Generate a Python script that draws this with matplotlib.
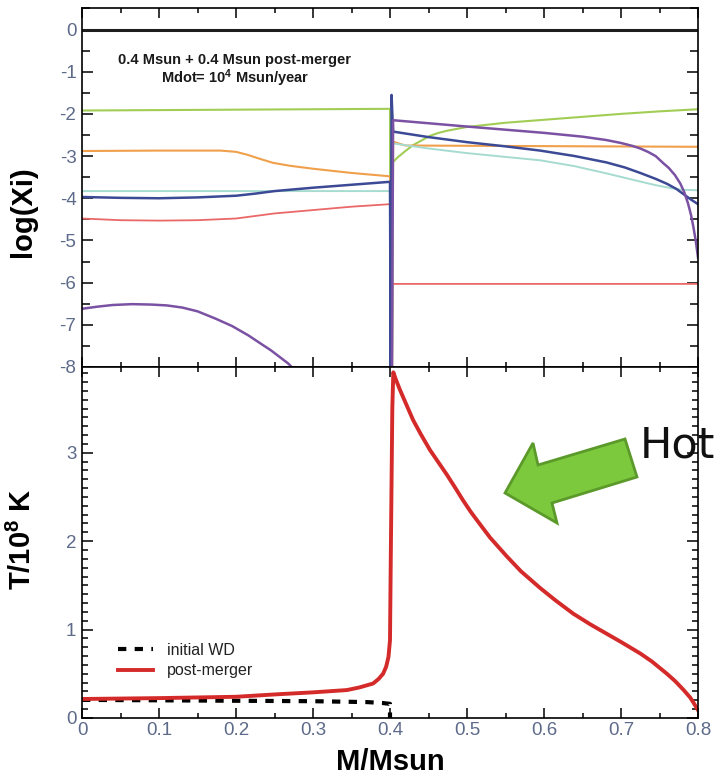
import matplotlib
matplotlib.use("Agg")
import matplotlib.pyplot as plt
import matplotlib.patches as mpatches
from matplotlib.ticker import MultipleLocator, FixedLocator

plt.rcParams['font.family'] = ['Liberation Sans', 'DejaVu Sans']
plt.rcParams['axes.unicode_minus'] = False
plt.rcParams['mathtext.default'] = 'regular'

# ---------------------------------------------------------
# Data: top panel, log abundance per species
# ---------------------------------------------------------
m_zero = [0.0, 0.8]
zero_line = [0.0, 0.0]

m_green = [0, 0.1, 0.2, 0.3, 0.4, 0.4005, 0.4025, 0.404, 0.41, 0.42, 0.43, 0.44, 0.452, 0.463,
           0.474, 0.5, 0.55, 0.6, 0.65, 0.7, 0.75, 0.8]
green = [-1.92, -1.91, -1.90, -1.89, -1.88, -8.6, -8.6, -3.14, -3.03, -2.88, -2.74, -2.64, -2.52, -2.45,
         -2.40, -2.31, -2.21, -2.14, -2.07, -2.00, -1.94, -1.89]

m_orange = [0, 0.1, 0.18, 0.2, 0.215, 0.23, 0.248, 0.27, 0.3, 0.35, 0.4, 0.4005, 0.4025,
            0.404, 0.42, 0.8]
orange = [-2.88, -2.87, -2.87, -2.90, -2.97, -3.06, -3.16, -3.23, -3.30, -3.40, -3.48, -8.6, -8.6,
          -2.66, -2.75, -2.78]

m_teal = [0, 0.4, 0.4005, 0.4025, 0.404, 0.45, 0.5, 0.55, 0.595, 0.64, 0.681, 0.715, 0.745,
          0.765, 0.78, 0.8]
teal = [-3.83, -3.83, -8.6, -8.6, -2.70, -2.82, -2.93, -3.02, -3.10, -3.24, -3.41, -3.56, -3.69,
        -3.76, -3.80, -3.81]

m_blue = [0, 0.05, 0.1, 0.15, 0.2, 0.225, 0.25, 0.3, 0.35, 0.4, 0.401, 0.402, 0.404, 0.45, 0.5,
          0.55, 0.595, 0.64, 0.681, 0.705, 0.725, 0.745, 0.76, 0.772, 0.781, 0.79, 0.8]
blue = [-3.97, -3.99, -4.00, -3.98, -3.94, -3.89, -3.83, -3.75, -3.68, -3.61, -8.6, -1.55, -2.42,
        -2.55, -2.67, -2.77, -2.87, -3.00, -3.15, -3.27, -3.40, -3.54, -3.66, -3.78, -3.90, -4.02, -4.14]

m_red = [0, 0.05, 0.1, 0.15, 0.2, 0.225, 0.25, 0.3, 0.35, 0.4, 0.4005, 0.4025, 0.403, 0.8]
red = [-4.48, -4.52, -4.53, -4.52, -4.48, -4.42, -4.36, -4.28, -4.20, -4.14, -8.6, -8.6, -6.03, -6.03]

m_purple = [0, 0.02, 0.04, 0.065, 0.09, 0.11, 0.13, 0.15, 0.173, 0.195, 0.216, 0.23, 0.245,
            0.258, 0.268, 0.275]
purple = [-6.62, -6.57, -6.53, -6.51, -6.52, -6.54, -6.59, -6.68, -6.85, -7.03, -7.25, -7.42, -7.60,
          -7.78, -7.92, -8.05]
m_purple_r = [0.4025, 0.404, 0.5, 0.6, 0.65, 0.681, 0.70, 0.715, 0.725, 0.735, 0.745, 0.755,
              0.762, 0.77, 0.777, 0.782, 0.787, 0.791, 0.794, 0.797, 0.8]
purple_r = [-8.6, -2.15, -2.30, -2.45, -2.54, -2.62, -2.69, -2.76, -2.82, -2.90, -3.00, -3.17,
            -3.28, -3.45, -3.65, -3.85, -4.12, -4.40, -4.68, -5.00, -5.40]

# ---------------------------------------------------------
# Data: bottom panel, temperature profile
# ---------------------------------------------------------
m_wd = [0, 0.1, 0.2, 0.3, 0.37, 0.39, 0.4, 0.4]
t_wd = [0.205, 0.20, 0.195, 0.19, 0.18, 0.17, 0.16, 0.0]

m_post = [0, 0.1, 0.2, 0.257, 0.3, 0.344, 0.36, 0.378, 0.385, 0.391, 0.395, 0.398, 0.4, 0.401,
          0.403, 0.4043, 0.408, 0.413, 0.42, 0.43, 0.44, 0.452, 0.463, 0.474, 0.485, 0.495,
          0.505, 0.517, 0.53, 0.5515, 0.57, 0.595, 0.615, 0.638, 0.66, 0.681, 0.70, 0.725,
          0.74, 0.759, 0.77, 0.781, 0.79, 0.796, 0.8]
t_post = [0.215, 0.225, 0.24, 0.27, 0.29, 0.316, 0.345, 0.39, 0.44, 0.50, 0.58, 0.69, 0.88, 1.8,
          3.5, 3.91, 3.82, 3.71, 3.57, 3.37, 3.21, 3.03, 2.89, 2.75, 2.60, 2.46,
          2.33, 2.19, 2.04, 1.83, 1.66, 1.47, 1.33, 1.18, 1.06, 0.955, 0.86, 0.73,
          0.64, 0.505, 0.42, 0.32, 0.23, 0.147, 0.09]

x_ticks = [0, 0.1, 0.2, 0.3, 0.4, 0.5, 0.6, 0.7, 0.8]
x_labels = ['0', '0.1', '0.2', '0.3', '0.4', '0.5', '0.6', '0.7', '0.8']
top_yticks = [0, -1, -2, -3, -4, -5, -6, -7, -8]
bot_yticks = [0, 1, 2, 3]

TICK_COLOR = '#5d6a8a'

fig = plt.figure(figsize=(7.15, 7.8), dpi=100)
ax_top = fig.add_axes([82 / 715, 1 - 367 / 780, 616 / 715, 359 / 780])
ax_bot = fig.add_axes([82 / 715, 1 - 718 / 780, 616 / 715, 351 / 780])


def style_axis(ax, ymajor, yminor, ymaj_len, ymin_len):
    for sp in ax.spines.values():
        sp.set_linewidth(1.2)
    ax.set_xlim(0, 0.8)
    ax.xaxis.set_major_locator(FixedLocator(x_ticks))
    ax.xaxis.set_minor_locator(MultipleLocator(0.05))
    ax.yaxis.set_major_locator(FixedLocator(ymajor))
    ax.yaxis.set_minor_locator(MultipleLocator(yminor))
    ax.tick_params(axis='both', which='both', direction='in', top=True, right=True,
                   colors='black', labelcolor=TICK_COLOR, labelsize=13.5, width=1.1)
    ax.tick_params(axis='x', which='major', length=7, pad=3)
    ax.tick_params(axis='x', which='minor', length=3.5)
    ax.tick_params(axis='y', which='major', length=ymaj_len, pad=4)
    ax.tick_params(axis='y', which='minor', length=ymin_len)


# ---------------------------------------------------------
# Top panel: abundances
# ---------------------------------------------------------
style_axis(ax_top, top_yticks, 0.5, 8, 5.5)
ax_top.set_ylim(-8, 0.51)
ax_top.set_yticklabels([str(v) for v in top_yticks])
ax_top.tick_params(axis='x', labelbottom=False)

ax_top.plot(m_zero, zero_line, color='#1e1e1e', lw=2.2)
ax_top.plot(m_green, green, color='#a2cd55', lw=1.5)
ax_top.plot(m_orange, orange, color='#f0a04b', lw=1.5)
ax_top.plot(m_teal, teal, color='#a6dbd0', lw=1.4)
ax_top.plot(m_red, red, color='#ea6868', lw=1.3)
ax_top.plot(m_blue, blue, color='#3c4a96', lw=1.8)
ax_top.plot(m_purple, purple, color='#7b52a3', lw=1.8)
ax_top.plot(m_purple_r, purple_r, color='#7b52a3', lw=1.8)

ax_top.text(0.248, 0.856, '0.4 Msun + 0.4 Msun post-merger', transform=ax_top.transAxes,
            ha='center', va='center', fontsize=10.5, fontweight='bold', color='#1a1a1a')
ax_top.text(0.248, 0.804, 'Mdot= 10$^4$ Msun/year', transform=ax_top.transAxes,
            ha='center', va='center', fontsize=10.5, fontweight='bold', color='#1a1a1a')

ax_top.set_ylabel('log(Xi)', fontsize=21, fontweight='bold')
ax_top.yaxis.set_label_coords(-0.073, 0.432)

# ---------------------------------------------------------
# Bottom panel: temperature
# ---------------------------------------------------------
style_axis(ax_bot, bot_yticks, 0.1, 8, 4)
ax_bot.set_ylim(0, 3.97)
ax_bot.set_xticklabels(x_labels)
ax_bot.set_yticklabels([str(v) for v in bot_yticks])

ax_bot.plot(m_wd, t_wd, color='black', lw=3, linestyle=(0, (2, 2)), label='initial WD')
ax_bot.plot(m_post, t_post, color='#d42a2a', lw=2.8, label='post-merger')

ax_bot.legend(loc='upper left', bbox_to_anchor=(0.058, 0.215), frameon=False,
              fontsize=11.5, handlelength=2.2, handletextpad=0.9, labelspacing=0.35,
              borderpad=0, borderaxespad=0, labelcolor='#222222')

ax_bot.set_xlabel('M/Msun', fontsize=21, fontweight='bold')
ax_bot.xaxis.set_label_coords(0.5, -0.085)
ax_bot.set_ylabel('T/10$^{8}$ K', fontsize=21, fontweight='bold')
ax_bot.yaxis.set_label_coords(-0.073, 0.51)

# ---------------------------------------------------------
# Slide overlay: green arrow + "Hot"
# ---------------------------------------------------------
arrow_px = [(505, 493), (533, 443), (538, 465), (625, 439), (637, 477), (552, 503), (557, 523)]
arrow = mpatches.Polygon([(x / 715, 1 - y / 780) for x, y in arrow_px], closed=True,
                         transform=fig.transFigure, facecolor='#7dc93e', edgecolor='#5b9a2a',
                         lw=2, zorder=10)
fig.patches.append(arrow)
fig.text(640 / 715, 1 - 458 / 780, 'Hot', fontsize=31, family='DejaVu Sans',
         color='#111111', ha='left', va='baseline', zorder=11)

fig.savefig('out.png', dpi=100)
